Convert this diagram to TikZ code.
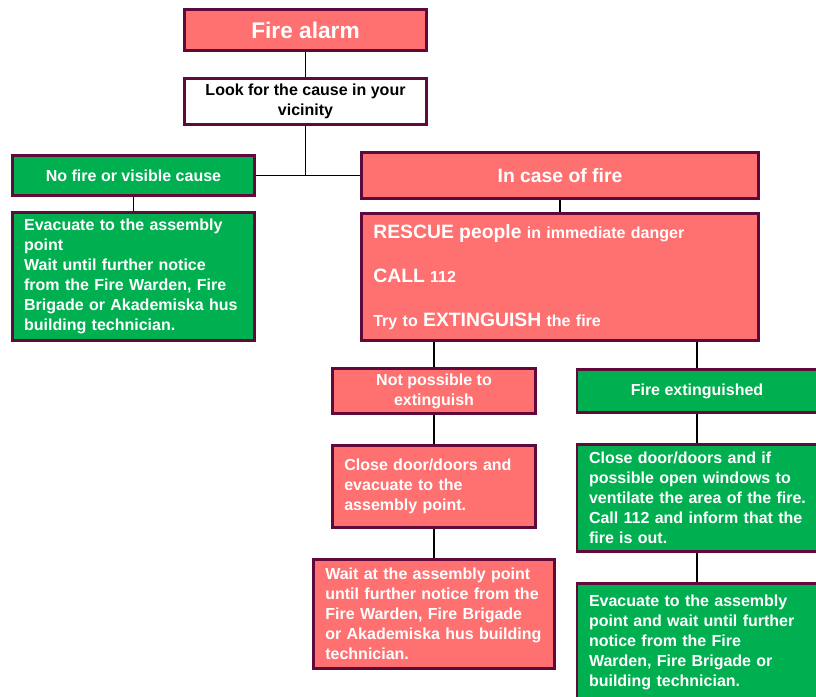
\documentclass[tikz,border=0pt]{standalone}
\usepackage{fontspec}
\setmainfont{Liberation Sans}
\usepackage{xcolor}
\usetikzlibrary{positioning}
\definecolor{alarmred}{RGB}{255,112,112}
\definecolor{safegreen}{RGB}{0,176,80}
\definecolor{edgeplum}{RGB}{96,10,60}
\tikzset{
  box/.style={draw=edgeplum,line width=2.2pt,text=white,
    font=\fontsize{12}{15}\selectfont\bfseries,inner xsep=9pt,inner ysep=4pt},
  firehead/.style={box,fill=alarmred,align=center},
  safehead/.style={box,fill=safegreen,align=center},
  firenote/.style={box,fill=alarmred,align=left},
  safenote/.style={box,fill=safegreen,align=left},
  link/.style={line width=1.1pt}
}
\newcommand{\loud}[1]{{\fontsize{14.5}{33}\selectfont #1}}

\begin{document}
\begin{tikzpicture}[x=0.75pt,y=-0.75pt]
\useasboundingbox (0,0) rectangle (816,696);
\node[firehead, minimum width=182pt, minimum height=30.5pt,
  font=\fontsize{17}{20}\selectfont\bfseries] (alarm) at (305.5,30) {Fire alarm};
\node[box, fill=white, text=black, align=center, minimum width=182pt,
  minimum height=35pt, below=18.75pt of alarm] (look) {Look for the cause in your\\vicinity};
\node[safehead, minimum width=182pt, minimum height=30.5pt] (nofire) at (133.5,175.5)
  {No fire or visible cause};
\node[safenote, text width=164pt, minimum height=95.5pt, below=10.5pt of nofire] (evacuate)
  {Evacuate to the assembly\\point\\Wait until further notice\\from the Fire Warden, Fire\\Brigade or Akademiska hus\\building technician.};
\node[firehead, minimum width=298pt, minimum height=34pt,
  font=\fontsize{14.5}{18}\selectfont\bfseries] (incase) at (560,175.5) {In case of fire};
\node[firenote, text width=280pt, minimum height=95.5pt, below=9pt of incase,
  font=\fontsize{12}{33}\selectfont\bfseries] (rescue)
  {\loud{RESCUE people} in immediate danger\\\loud{CALL} 112\\Try to \loud{EXTINGUISH} the fire};
\node[firehead, minimum width=152.5pt, minimum height=33.5pt] (notposs) at (434,391)
  {Not possible to\\extinguish};
\node[firenote, text width=134.5pt, minimum height=61pt, below=21.75pt of notposs] (closedoor)
  {Close door/doors and\\evacuate to the\\assembly point.};
\node[firenote, text width=163pt, minimum height=82pt, below=21.75pt of closedoor] (waitpoint)
  {Wait at the assembly point\\until further notice from the\\Fire Warden, Fire Brigade\\or Akademiska hus building\\technician.};
\node[safehead, minimum width=180pt, minimum height=32.5pt] (putout) at (697,391)
  {Fire extinguished};
\node[safenote, text width=172pt, minimum height=80.5pt, below=21.75pt of putout,
  xshift=5pt] (ventilate)
  {Close door/doors and if\\possible open windows to\\ventilate the area of the fire.\\Call 112 and inform that the\\fire is out.};
\node[safenote, text width=172pt, minimum height=88pt, below=21.5pt of ventilate] (gather)
  {Evacuate to the assembly\\point and wait until further\\notice from the Fire\\Warden, Fire Brigade or\\building technician.};
% connectors
\draw[link] (alarm) -- (look);
\draw[link] (look) -- (look.south |- nofire.east);
\draw[link] (nofire) -- (incase);
\draw[link] (nofire) -- (evacuate);
\draw[link] (incase) -- (rescue);
\draw[link] (notposs.north |- rescue.south) -- (notposs);
\draw[link] (putout.north |- rescue.south) -- (putout);
\draw[link] (notposs) -- (closedoor);
\draw[link] (closedoor) -- (waitpoint);
\draw[link] (putout) -- (putout.south |- ventilate.north);
\draw[link] (putout.south |- ventilate.south) -- (putout.south |- gather.north);
\end{tikzpicture}
\end{document}
